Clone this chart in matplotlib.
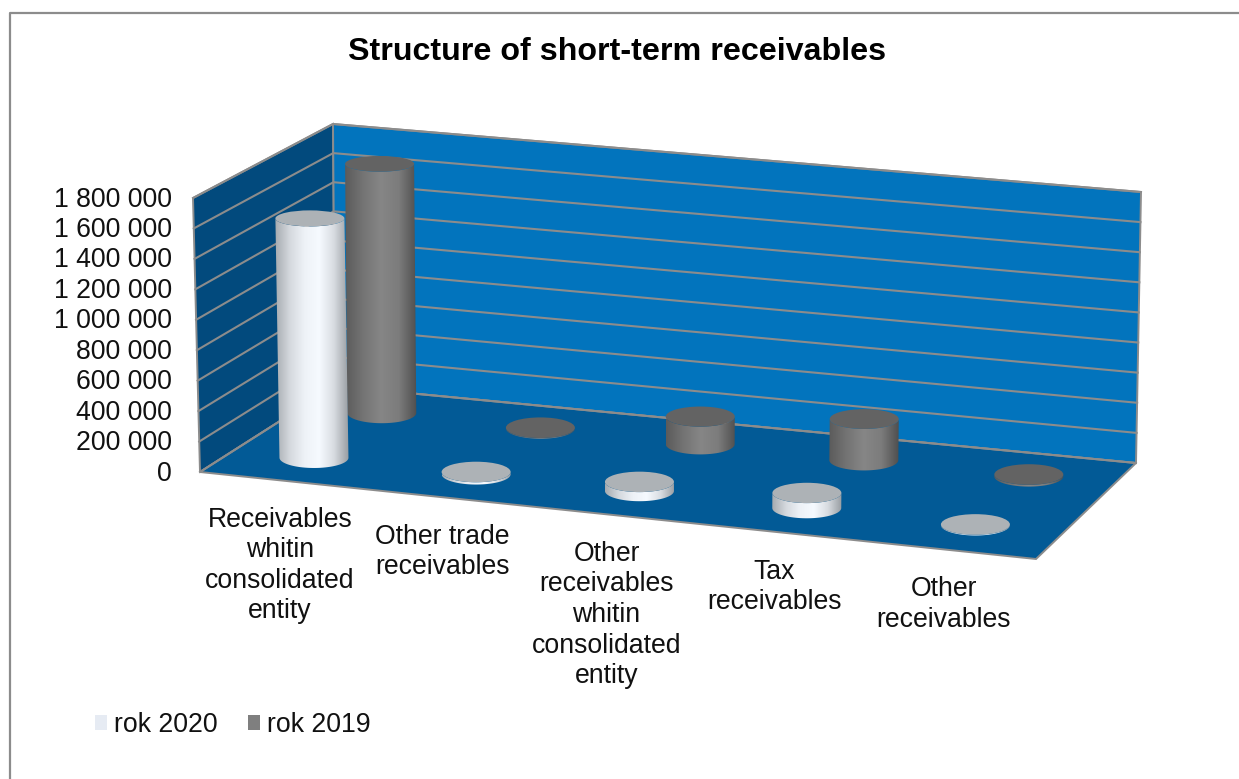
#!/usr/bin/python3
import numpy as np
import matplotlib
matplotlib.use('Agg')
import matplotlib.pyplot as plt
from matplotlib.colors import LinearSegmentedColormap
from matplotlib.patches import Polygon, Ellipse, PathPatch, Patch
from matplotlib.path import Path

plt.rcParams['font.family'] = ['Liberation Sans', 'DejaVu Sans']

categories = ['Receivables\nwhitin\nconsolidated\nentity', 'Other trade\nreceivables',
              'Other\nreceivables\nwhitin\nconsolidated\nentity', 'Tax\nreceivables', 'Other\nreceivables']
rok_2020 = [1590000, 15000, 60000, 100000, 5000]
rok_2019 = [1690000, 5000, 185000, 275000, 12000]
y_ticks = [0, 200000, 400000, 600000, 800000, 1000000, 1200000, 1400000, 1600000, 1800000]
y_max = 1800000

# box corners in pixels: (category, depth, height)
c000 = np.array([200, 472.])
c100 = np.array([1036, 559.])
c010 = np.array([335, 386.])
c110 = np.array([1136, 463.])
c001 = np.array([193, 198.])
c101 = np.array([1042, 288.])
c011 = np.array([333, 124.])
c111 = np.array([1141, 192.])

def proj(u, v, val):
    a = u / len(categories)
    a = a - 0.007 * np.sin(np.pi * a) ** 2  # a bit of perspective along the categories
    w = val / y_max
    bottom = (1 - v) * ((1 - a) * c000 + a * c100) + v * ((1 - a) * c010 + a * c110)
    top = (1 - v) * ((1 - a) * c001 + a * c101) + v * ((1 - a) * c011 + a * c111)
    return (1 - w) * bottom + w * top

def cylinder(ax, u, v, val, cmap, capcolor):
    bx, by = proj(u, v, 0)
    tx, ty = proj(u, v, val)
    rx = 34.5
    ry_b = 10.3
    ry_t = 10.3 - 2.3 * val / 1600000
    t = np.linspace(np.pi, 0, 60)
    low = np.column_stack([bx + rx * np.cos(t), by + ry_b * np.sin(t)])
    up = np.column_stack([tx + rx * np.cos(t[::-1]), ty + ry_t * np.sin(t[::-1])])
    pts = np.vstack([low, up, low[:1]])
    clip = PathPatch(Path(pts), transform=ax.transData, fc='none', ec='none')
    ax.add_patch(clip)
    x0 = min(bx, tx) - rx
    x1 = max(bx, tx) + rx
    grad = np.linspace(0, 1, 128).reshape(1, -1)
    im = ax.imshow(grad, cmap=cmap, extent=[x0, x1, by + ry_b + 1, ty - ry_t - 1],
                   aspect='auto', zorder=3, interpolation='bilinear')
    im.set_clip_path(clip)
    ax.add_patch(Ellipse((tx, ty), 2 * rx, 2 * ry_t, fc=capcolor, ec='none', zorder=3))

white_cm = LinearSegmentedColormap.from_list('w', ['#a6abb0', '#d5d9de', '#eef2f7', '#f6faff', '#d8dce1', '#989da2'])
gray_cm = LinearSegmentedColormap.from_list('g', ['#5b5b5b', '#747474', '#868686', '#7c7c7c', '#4f4f4f'])

fig = plt.figure(figsize=(12.39, 7.79), dpi=100)
ax = fig.add_axes([0, 0, 1, 1])
ax.set_xlim(0, 1239)
ax.set_ylim(779, 0)
ax.axis('off')

n = len(categories)
edge = '#8c8c8c'
ax.add_patch(Polygon([proj(0, 0, 0), proj(0, 1, 0), proj(0, 1, y_max), proj(0, 0, y_max)],
                     fc='#024a7d', ec=edge, lw=1.4))
ax.add_patch(Polygon([proj(0, 1, 0), proj(n, 1, 0), proj(n, 1, y_max), proj(0, 1, y_max)],
                     fc='#0274bd', ec=edge, lw=1.4))
ax.add_patch(Polygon([proj(0, 0, 0), proj(n, 0, 0), proj(n, 1, 0), proj(0, 1, 0)],
                     fc='#025a96', ec=edge, lw=1.4))

for val in y_ticks:
    p = np.array([proj(0, 0, val), proj(0, 1, val), proj(n, 1, val)])
    ax.plot(p[:, 0], p[:, 1], color=edge, lw=1.5, zorder=2)
    y = proj(0, 0, val)[1]
    ax.text(172, y + 1.5, f'{val:,}'.replace(',', ' '), ha='right', va='center', fontsize=19.2, color='#111111')

for i in range(n):
    cylinder(ax, i + 0.48, 0.775, rok_2019[i], gray_cm, '#636363')
for i in range(n):
    cylinder(ax, i + 0.48, 0.26, rok_2020[i], white_cm, '#adb2b6')

for i, name in enumerate(categories):
    x, y = proj(i + 0.5, 0, 0)
    ax.text(x - 3 - 1.3 * i, y + 26, name, ha='center', va='top', fontsize=19.2, linespacing=1.23, color='#111111')

ax.text(617, 52, 'Structure of short-term receivables', ha='center', va='center',
        fontsize=23.2, fontweight='bold', color='black')

# chart frame
ax.plot([10, 10, 1239], [779, 13, 13], color='#8c8c8c', lw=1.6)

handles = [Patch(fc='#e6ebf3', ec='none', label='rok 2020'), Patch(fc='#7f7f7f', ec='none', label='rok 2019')]
ax.legend(handles=handles, loc='center left', bbox_to_anchor=(95 / 1239, 1 - 725 / 779), frameon=False,
          fontsize=19.2, ncol=2, handlelength=0.45, handleheight=0.45, handletextpad=0.25,
          columnspacing=1.15, borderpad=0, borderaxespad=0, labelcolor='#111111')

fig.savefig('out.png', dpi=100)
